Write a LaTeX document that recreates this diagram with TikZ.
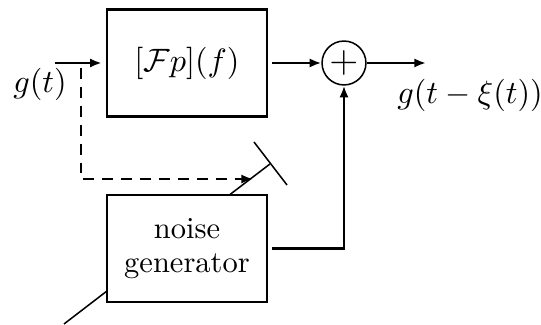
\RequirePackage{fix-cm}
\documentclass[tikz,border=0pt]{standalone}
\usetikzlibrary{arrows.meta}
\begin{document}
\begin{tikzpicture}[x=0.328pt,y=-0.328pt,
  blockbox/.style={draw,line width=0.85pt,minimum width=52.5pt,minimum height=35.2pt,inner sep=0pt,align=center},
  sumnode/.style={draw,circle,line width=0.5pt,minimum size=14.4pt,inner sep=0pt,font=\fontsize{12.5}{12.5}\selectfont},
  mathlabel/.style={font=\fontsize{10.6}{12}\selectfont,inner sep=0pt},
  conn/.style={line width=0.85pt},
  arr/.style={conn,-{Latex[length=3.8pt,width=3pt]}},
  thinline/.style={line width=0.5pt},
  dashline/.style={line width=0.85pt,dash pattern=on 3.6pt off 2.6pt}]
\useasboundingbox (0,0) rectangle (541,325);
\node[blockbox,font=\fontsize{10.6}{12}\selectfont] (fp) at (187,63) {$[\mathcal{F}p](f)$};
\node[blockbox] (ng) at (187,248.5) {noise\\[-0.8pt]generator};
\node[sumnode] (sum) at (344,63) {$+$};
\coordinate (in) at (55,63);
\node[mathlabel] (gt) at (40,84) {$g(t)$};
\coordinate (out) at (426,63);
\node[mathlabel] (gout) at (470,95) {$g(t-\xi(t))$};
\coordinate (dstart) at (81,68);
\coordinate (dcorner) at (81,179);
\coordinate (dend) at (253,179);
\coordinate (sw1) at (230,194.5);
\coordinate (sw2) at (270,164);
\coordinate (bar1) at (254,142);
\coordinate (bar2) at (287,185);
\coordinate (ngl) at (107,291);
\coordinate (ngfree) at (64,324);
\coordinate (corner) at (344,248.5);
\draw[arr,shorten >=1.3pt] (in) -- (fp.west);
\draw[arr,shorten <=1.3pt] (fp.east) -- (sum.west);
\draw[arr] (sum.east) -- (out);
\draw[dashline,-{Latex[length=3.8pt,width=3pt]}] (dstart) -- (dcorner) -- (dend);
\draw[thinline] (sw1) -- (sw2);
\draw[thinline] (bar1) -- (bar2);
\draw[thinline] (ngl) -- (ngfree);
\draw[arr,shorten <=1.3pt] (ng.east) -- (corner) -- (sum.south);
\end{tikzpicture}
\end{document}
